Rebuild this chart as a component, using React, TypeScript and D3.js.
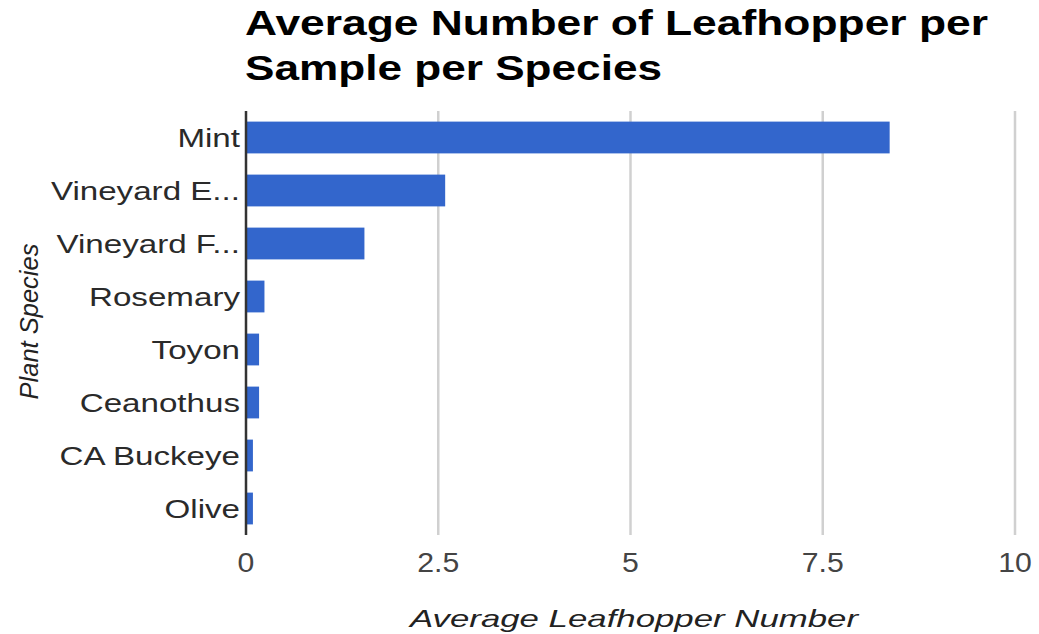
import React from "react";
import * as d3 from "d3";

const categories = ["Mint", "Vineyard E...", "Vineyard F...", "Rosemary", "Toyon", "Ceanothus", "CA Buckeye", "Olive"];
const values = [8.37, 2.59, 1.54, 0.24, 0.17, 0.17, 0.09, 0.09];
const xTicks = [0, 2.5, 5, 7.5, 10];
const titleLines = ["Average Number of Leafhopper per", "Sample per Species"];
const xTitle = "Average Leafhopper Number";
const yTitle = "Plant Species";

const W = 1039;
const H = 634;
const left = 246;
const right = 1015;
const top = 111;
const bottom = 535;
const FONT = "'Liberation Sans', Arial, sans-serif";

export default function App() {
  const x = d3.scaleLinear().domain([0, 10]).range([left, right]);
  const y = d3.scaleBand<string>().domain(categories).range([top, bottom]).paddingInner(0.4).paddingOuter(0.2);
  const fmt = (v: number) => String(v);

  return (
    <svg width={W} height={H} style={{ position: "absolute", left: 0, top: 0, background: "#fff" }}>
      {/* title */}
      <text x={245} y={35} fontFamily={FONT} fontWeight="bold" fontSize={35} fill="#000" textLength={743} lengthAdjust="spacingAndGlyphs">
        {titleLines[0]}
      </text>
      <text x={245} y={80} fontFamily={FONT} fontWeight="bold" fontSize={35} fill="#000" textLength={417} lengthAdjust="spacingAndGlyphs">
        {titleLines[1]}
      </text>

      {/* gridlines */}
      {xTicks.filter((t) => t !== 0).map((t) => (
        <line key={"g" + t} x1={x(t)} x2={x(t)} y1={top} y2={bottom} stroke="#d0d0d0" strokeWidth={2.5} />
      ))}

      {/* bars */}
      {categories.map((c, i) => (
        <rect key={c} x={x(0)} y={y(c)!} width={x(values[i]) - x(0)} height={y.bandwidth()} fill="#3366cc" />
      ))}

      {/* axis line */}
      <line x1={left} x2={left} y1={top} y2={bottom} stroke="#333" strokeWidth={2.5} />

      {/* category labels */}
      {categories.map((c) => (
        <text
          key={"l" + c}
          transform={`translate(240,${y(c)! + y.bandwidth() / 2 + 9.5}) scale(1.3,1)`}
          textAnchor="end"
          fontFamily={FONT}
          fontSize={25.5}
          fill="#2a2a2a"
        >
          {c}
        </text>
      ))}

      {/* tick labels */}
      {xTicks.map((t) => (
        <text
          key={"t" + t}
          transform={`translate(${x(t)},572) scale(1.12,1)`}
          textAnchor="middle"
          fontFamily={FONT}
          fontSize={27}
          fill="#444"
        >
          {fmt(t)}
        </text>
      ))}

      {/* axis titles */}
      <text x={410} y={627} fontFamily={FONT} fontStyle="italic" fontSize={24} fill="#222" textLength={448} lengthAdjust="spacingAndGlyphs">
        {xTitle}
      </text>
      <text
        transform={`translate(38,${(243 + 400) / 2}) rotate(-90)`}
        textAnchor="middle"
        fontFamily={FONT}
        fontStyle="italic"
        fontSize={25.5}
        fill="#222"
      >
        {yTitle}
      </text>
    </svg>
  );
}
